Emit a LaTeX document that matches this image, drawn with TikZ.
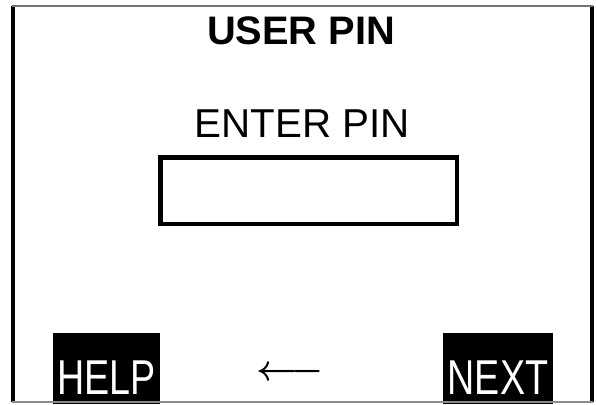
\documentclass[tikz,border=0pt]{standalone}
\usepackage{fontspec}
\setmainfont{Liberation Sans}
\newfontfamily\keyfont[FakeStretch=0.77]{Liberation Sans}
\usetikzlibrary{positioning}

\tikzset{
  softkey/.style={fill,inner sep=0pt,minimum height=1.775cm,anchor=south},
  keylabel/.style={text=white,inner sep=0pt,anchor=base,font=\keyfont\fontsize{34.8}{36}\selectfont},
}

\begin{document}
\begin{tikzpicture}
  \useasboundingbox (0,0) rectangle (14.925,10.1);

  % screen frame
  \draw[line width=2.8pt] (0.325,9.95) -- (0.325,0.05);
  \draw[line width=2.8pt] (14.8,9.95) -- (14.8,0.05);
  \draw[line width=1.2pt,black!55] (0.3,9.95) -- (14.82,9.95);

  \node (title) at (7.525,8.975) [anchor=base,font=\bfseries\fontsize{28.3}{30}\selectfont] {USER PIN};
  \node (prompt) at (7.56,6.65) [anchor=base,font=\fontsize{28.7}{30}\selectfont] {ENTER PIN};
  \node (pinfield) at (7.72,5.33) [draw,line width=3.2pt,inner sep=0pt,minimum width=7.41cm,minimum height=1.66cm] {};

  \node (help) at (2.6625,0) [softkey,minimum width=2.675cm] {};
  \node (next) at (12.45,0) [softkey,minimum width=2.75cm] {};
  \node (helptxt) at ([yshift=0.25cm]help.south) [keylabel] {HELP};
  \node (nexttxt) at ([yshift=0.25cm]next.south) [keylabel] {NEXT};

  \node (back) at (7.25,0.775) {\scalebox{2.55}{\boldmath$\longleftarrow$}};

  \draw[line width=1.2pt,black!45] (0.3,0.05) -- (14.82,0.05);
\end{tikzpicture}
\end{document}
